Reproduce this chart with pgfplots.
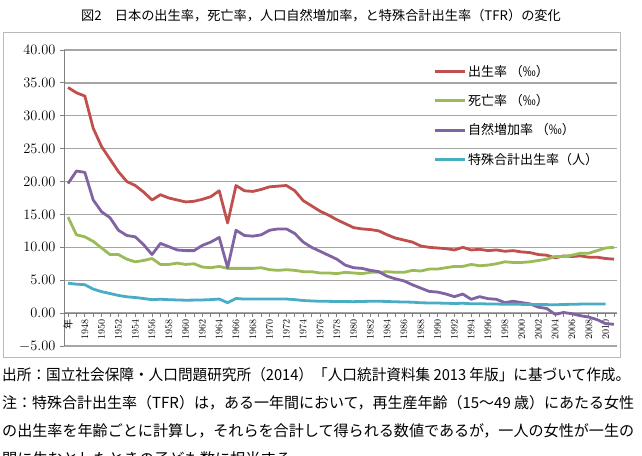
\documentclass[border=0pt]{standalone}
\usepackage{pgfplots}
\pgfplotsset{compat=1.18}
\usepackage{pgfplotstable}
\usepackage{fontspec}
\newfontfamily\cjk{Noto Sans CJK JP}
\definecolor{cBirth}{HTML}{C0504D}
\definecolor{cDeath}{HTML}{9BBB59}
\definecolor{cNat}{HTML}{8064A2}
\definecolor{cTfr}{HTML}{4BACC6}
\definecolor{gridgray}{HTML}{A6A6A6}

% Vital statistics of Japan, 1947-2012 (rates per 1000, TFR per woman)
\pgfplotstableread{
year birth death nat tfr
1947 34.3 14.6 19.7 4.54
1948 33.5 11.9 21.6 4.40
1949 33.0 11.6 21.4 4.32
1950 28.1 10.9 17.2 3.65
1951 25.3 9.9 15.4 3.26
1952 23.4 8.9 14.5 2.98
1953 21.5 8.9 12.6 2.69
1954 20.0 8.2 11.8 2.48
1955 19.4 7.8 11.6 2.37
1956 18.4 8.0 10.4 2.22
1957 17.2 8.3 8.9 2.04
1958 18.0 7.4 10.6 2.11
1959 17.5 7.4 10.1 2.04
1960 17.2 7.6 9.6 2.00
1961 16.9 7.4 9.5 1.96
1962 17.0 7.5 9.5 1.98
1963 17.3 7.0 10.3 2.00
1964 17.7 6.9 10.8 2.05
1965 18.6 7.1 11.5 2.14
1966 13.7 6.8 6.9 1.58
1967 19.4 6.8 12.6 2.23
1968 18.6 6.8 11.8 2.13
1969 18.5 6.8 11.7 2.13
1970 18.8 6.9 11.9 2.13
1971 19.2 6.6 12.6 2.16
1972 19.3 6.5 12.8 2.14
1973 19.4 6.6 12.8 2.14
1974 18.6 6.5 12.1 2.05
1975 17.1 6.3 10.8 1.91
1976 16.3 6.3 10.0 1.85
1977 15.5 6.1 9.4 1.80
1978 14.9 6.1 8.8 1.79
1979 14.2 6.0 8.2 1.77
1980 13.6 6.2 7.3 1.75
1981 13.0 6.1 6.9 1.74
1982 12.8 6.0 6.8 1.77
1983 12.7 6.2 6.5 1.80
1984 12.5 6.2 6.3 1.81
1985 11.9 6.3 5.6 1.76
1986 11.4 6.2 5.2 1.72
1987 11.1 6.2 4.9 1.69
1988 10.8 6.5 4.3 1.66
1989 10.2 6.4 3.8 1.57
1990 10.0 6.7 3.3 1.54
1991 9.9 6.7 3.2 1.53
1992 9.8 6.9 2.9 1.50
1993 9.6 7.1 2.5 1.46
1994 10.0 7.1 2.9 1.50
1995 9.6 7.4 2.1 1.42
1996 9.7 7.2 2.5 1.43
1997 9.5 7.3 2.2 1.39
1998 9.6 7.5 2.1 1.38
1999 9.4 7.8 1.6 1.34
2000 9.5 7.7 1.8 1.36
2001 9.3 7.7 1.6 1.33
2002 9.2 7.8 1.4 1.32
2003 8.9 8.0 0.9 1.29
2004 8.8 8.2 0.7 1.29
2005 8.4 8.6 -0.2 1.26
2006 8.7 8.6 0.1 1.32
2007 8.6 8.8 -0.1 1.34
2008 8.7 9.1 -0.4 1.37
2009 8.5 9.1 -0.6 1.37
2010 8.5 9.5 -1.0 1.39
2011 8.3 9.9 -1.6 1.39
2012 8.2 10.0 -1.7 nan
}\vitals

\begin{document}
\begin{tikzpicture}[x=1pt,y=1pt]
% page extent
\path (0,0) rectangle (642,455);
% chart frame
\draw[gray!55, line width=1pt] (3,97) rectangle (620,422);
% title
\node[font=\cjk\fontsize{13.2}{15}\selectfont] at (321,439)
  {図2　日本の出生率，死亡率，人口自然増加率，と特殊合計出生率（TFR）の変化};
\begin{axis}[
  at={(64pt,109pt)}, anchor=south west,
  width=553pt, height=296pt, scale only axis,
  xmin=-0.48, xmax=65.36, ymin=-5, ymax=40,
  axis x line*=middle, axis y line*=left,
  axis line style={gray, line width=0.9pt},
  xtick={0,...,65},
  xticklabels={{\cjk 年},{},1948,{},1950,{},1952,{},1954,{},1956,{},1958,{},1960,{},1962,{},1964,{},1966,{},1968,{},1970,{},1972,{},1974,{},1976,{},1978,{},1980,{},1982,{},1984,{},1986,{},1988,{},1990,{},1992,{},1994,{},1996,{},1998,{},2000,{},2002,{},2004,{},2006,{},2008,{},2010,{}},
  x tick label style={rotate=90, anchor=east, font=\fontsize{10}{11}\selectfont, inner sep=2pt},
  ytick={-5,0,...,40},
  y tick label style={/pgf/number format/fixed, /pgf/number format/fixed zerofill,
    /pgf/number format/precision=2, font=\fontsize{14}{16}\selectfont, xshift=-1pt},
  tick align=outside, major tick length=4pt,
  tick style={gray, line width=0.8pt},
  ymajorgrids, grid style={gridgray, line width=1.3pt},
  legend image code/.code={\draw[#1, line width=3pt] (0pt,0pt) -- (30pt,0pt);},
  legend cell align=left,
  legend style={at={(rel axis cs:0.667,0.955)}, anchor=north west, draw=none, fill=none,
    font=\cjk\fontsize{13}{15}\selectfont, row sep=12.5pt, inner sep=0pt,
    nodes={inner sep=2pt}},
  every axis plot/.append style={line width=2.8pt, line join=round},
]
\addplot[cBirth] table[x expr=\thisrow{year}-1947, y=birth] {\vitals};
\addplot[cDeath] table[x expr=\thisrow{year}-1947, y=death] {\vitals};
\addplot[cNat] table[x expr=\thisrow{year}-1947, y=nat] {\vitals};
\addplot[cTfr] table[x expr=\thisrow{year}-1947, y=tfr] {\vitals};
\legend{出生率 （‰）, 死亡率 （‰）, 自然増加率 （‰）, 特殊合計出生率（人）}
\end{axis}
% source and note
\begin{scope}[every node/.style={anchor=west, inner sep=0pt, font=\cjk\fontsize{15.2}{17}\selectfont}]
\node at (2,80) {\resizebox{628pt}{\height}{出所：国立社会保障・人口問題研究所（2014）「人口統計資料集 2013 年版」に基づいて作成。}};
\node at (2,52) {\resizebox{632pt}{\height}{注：特殊合計出生率（TFR）は，ある一年間において，再生産年齢（15～49 歳）にあたる女性}};
\node at (2,24) {\resizebox{632pt}{\height}{の出生率を年齢ごとに計算し，それらを合計して得られる数値であるが，一人の女性が一生の}};
\node[overlay] at (2,-4) {間に生むとしたときの子ども数に相当する。};
\end{scope}
\end{tikzpicture}
\end{document}
